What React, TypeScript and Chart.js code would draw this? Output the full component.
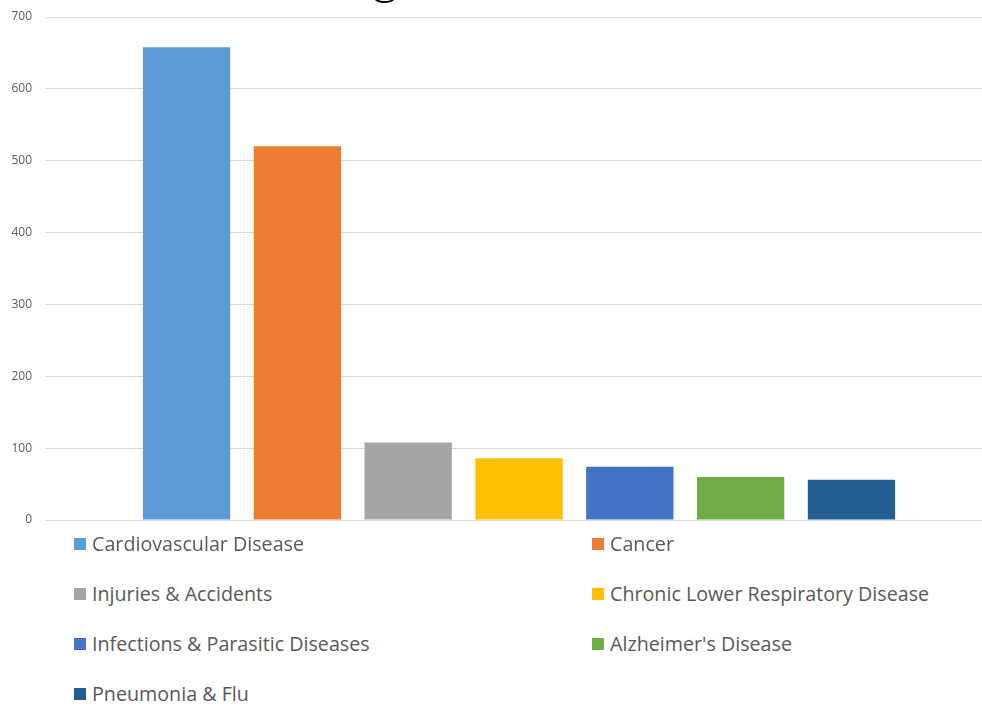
import React, { useEffect, useRef } from "react";
import { Chart, registerables } from "chart.js";

Chart.register(...registerables);

// Rates per cause of death
const categories = [""];
const seriesNames = [
  "Cardiovascular Disease",
  "Cancer",
  "Injuries & Accidents",
  "Chronic Lower Respiratory Disease",
  "Infections & Parasitic Diseases",
  "Alzheimer's Disease",
  "Pneumonia & Flu",
];
const seriesValues = [658, 520, 108, 86, 74, 60, 56];
const seriesColors = ["#5B9BD5", "#ED7D31", "#A5A5A5", "#FFC000", "#4472C4", "#70AD47", "#255E91"];
const yMin = 0;
const yMax = 700;
const yStep = 100;
const chartTitle = "Leading Causes of Death";

const TEXT_GRAY = "#595959";
const LEGEND_FONT = "'Open Sans', 'DejaVu Sans', sans-serif";

// Title sits mostly above the visible area; only its descender peeks in.
const titlePlugin = {
  id: "clippedTitle",
  afterDraw(chart: Chart) {
    const ctx = chart.ctx;
    ctx.save();
    ctx.font = "300 54px Lato, 'Open Sans', sans-serif";
    ctx.fillStyle = "#000000";
    ctx.textBaseline = "alphabetic";
    ctx.textAlign = "left";
    const pre = ctx.measureText("Leadin").width;
    const gm = ctx.measureText("g");
    const x = 385 - pre - gm.width / 2;
    const y = 3 - gm.actualBoundingBoxDescent;
    ctx.fillText(chartTitle, x, y);
    ctx.restore();
  },
};

function BarChart() {
  const ref = useRef<HTMLCanvasElement | null>(null);
  useEffect(() => {
    if (!ref.current) return;
    const chart = new Chart(ref.current, {
      type: "bar",
      data: {
        labels: categories,
        datasets: seriesNames.map((name, i) => ({
          label: name,
          data: [seriesValues[i]],
          backgroundColor: seriesColors[i],
          borderWidth: 0,
          categoryPercentage: 0.82,
          barPercentage: 0.788,
        })),
      },
      options: {
        animation: false,
        responsive: false,
        devicePixelRatio: 1,
        layout: { padding: { top: 17, bottom: 20, left: 0, right: 8 } },
        plugins: {
          legend: { display: false },
          tooltip: { enabled: false },
          title: { display: false },
        },
        scales: {
          x: {
            display: false,
            grid: { display: false },
          },
          y: {
            min: yMin,
            max: yMax,
            afterFit: (s: any) => {
              s.width = 46;
              s.paddingTop = 0;
              s.paddingBottom = 0;
            },
            border: { display: false },
            grid: { color: "#D9D9D9", lineWidth: 1, drawTicks: false },
            ticks: {
              stepSize: yStep,
              padding: 14,
              color: TEXT_GRAY,
              font: { family: "'Open Sans', sans-serif", size: 12 },
            },
          },
        },
      },
      plugins: [titlePlugin],
    });
    return () => chart.destroy();
  }, []);
  return (
    <canvas
      ref={ref}
      width={1000}
      height={540}
      style={{ position: "absolute", left: 0, top: 0, width: 1000, height: 540 }}
    />
  );
}

function Legend() {
  const colLeft = [74, 592];
  return (
    <>
      {seriesNames.map((name, i) => {
        const col = i % 2;
        const row = Math.floor(i / 2);
        return (
          <div
            key={name}
            style={{
              position: "absolute",
              left: colLeft[col],
              top: 532 + row * 50,
              height: 24,
              display: "flex",
              alignItems: "center",
              whiteSpace: "nowrap",
            }}
          >
            <span
              style={{
                display: "inline-block",
                width: 12,
                height: 12,
                background: seriesColors[i],
                marginRight: 6,
              }}
            />
            <span style={{ fontFamily: LEGEND_FONT, fontSize: 19.7, color: TEXT_GRAY, lineHeight: "24px" }}>
              {name}
            </span>
          </div>
        );
      })}
    </>
  );
}

export default function App() {
  return (
    <div
      style={{
        position: "fixed",
        left: 0,
        top: 0,
        width: 982,
        height: 707,
        overflow: "hidden",
        background: "#ffffff",
      }}
    >
      <BarChart />
      <Legend />
    </div>
  );
}
